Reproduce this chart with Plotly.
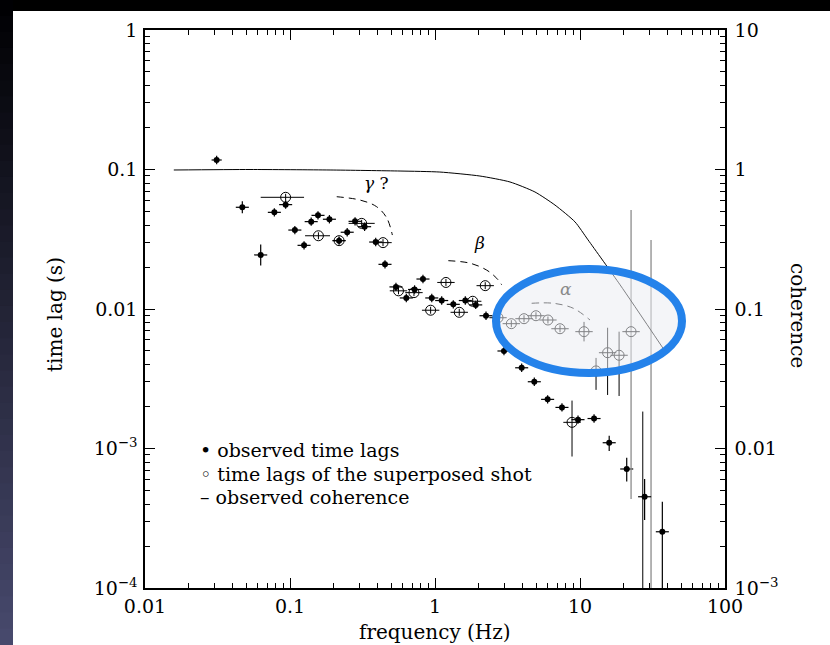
import math
import plotly.graph_objects as go

# ---------------- data ----------------
# observed time lags (filled dots)
freq_obs = [0.0312, 0.0469, 0.0628, 0.078, 0.0933, 0.108, 0.125, 0.140, 0.156, 0.187,
            0.218, 0.248, 0.281, 0.327, 0.390, 0.452, 0.538, 0.634, 0.723, 0.826,
            0.950, 1.112, 1.337, 1.618, 1.909, 2.248, 2.99, 3.96, 4.84, 5.98,
            7.51, 9.69, 12.5, 15.9, 21.0, 27.9, 36.97]
lag_obs = [0.117, 0.0536, 0.0244, 0.0493, 0.0560, 0.0368, 0.0286, 0.0423, 0.0469, 0.0440,
           0.0309, 0.0355, 0.0425, 0.0389, 0.0302, 0.0209, 0.0144, 0.0120, 0.0138, 0.0164,
           0.0120, 0.0115, 0.0108, 0.0115, 0.0107, 0.00895, 0.0050, 0.00379, 0.00301, 0.00225,
           0.00197, 0.00161, 0.00164, 0.00110, 0.000713, 0.000451, 0.000253]
# error bars in decades (upper / lower), frequency half-width in decades
obs_up_dex = [0.03, 0.043, 0.075] + [0.03] * 30 + [0.05, 0.08, 0.127, 0.215]
obs_dn_dex = [0.03, 0.043, 0.075] + [0.03] * 30 + [0.06, 0.09, 0.167, 0.60]
obs_f_dex = [0.035] + [0.045] * 36

# time lags of the superposed shot (open circles)
freq_shot = [0.0933, 0.157, 0.218, 0.312, 0.438, 0.560, 0.716, 1.19, 2.22, 0.933,
             1.47, 1.82, 2.72, 3.36, 4.11, 4.97, 6.01, 7.28, 10.66, 12.9,
             15.5, 18.6, 22.5, 8.81]
lag_shot = [0.0632, 0.0335, 0.0309, 0.0411, 0.0299, 0.0135, 0.0131, 0.0155, 0.0147, 0.0098,
            0.00947, 0.01136, 0.00866, 0.00785, 0.00852, 0.00895, 0.00834, 0.00722, 0.00688, 0.00360,
            0.00486, 0.00466, 0.00688, 0.00154]
shot_f_lo_dex = [0.172, 0.092, 0.045, 0.09] + [0.06] * 20
shot_f_hi_dex = [0.127, 0.080, 0.045, 0.09] + [0.06] * 20
shot_up_dex = [0.025] * 18 + [0.07, 0.093, 0.179, 0.169, 0.872, 0.156]
shot_dn_dex = [0.025] * 18 + [0.07, 0.136, 0.303, 0.292, 1.2, 0.245]
shot_gray_bar = [False] * 22 + [True, False]

# extra long error bars reaching the bottom axis
extra_freq = [30.9, 27.1]
extra_top = [0.0312, 0.00184]
extra_bottom = [5e-5, 5e-5]
extra_gray = [True, False]

# observed coherence (right axis)
freq_coh = [0.0158, 0.053, 0.189, 0.574, 1.08, 2.04, 3.29, 4.89, 6.72, 9.24, 11.36, 18.9, 37.3]
coherence = [0.992, 1.0, 0.992, 0.975, 0.959, 0.898, 0.814, 0.690, 0.556, 0.421, 0.313, 0.149, 0.0525]

# dashed arcs
arc_gamma_f = [0.210, 0.304, 0.396, 0.465, 0.508]
arc_gamma_lag = [0.0638, 0.0604, 0.0541, 0.0449, 0.0339]
arc_beta_f = [1.236, 1.742, 2.273, 2.665, 2.884]
arc_beta_lag = [0.0222, 0.0213, 0.0190, 0.0166, 0.0149]
arc_alpha_f = [4.64, 6.55, 8.99, 11.72]
arc_alpha_lag = [0.01099, 0.01099, 0.01012, 0.00834]

# arc labels
label_text = ["<i>γ</i> ?", "<i>β</i>", "<i>α</i>"]
label_f = [0.398, 2.04, 8.0]
label_lag = [0.080, 0.0297, 0.0139]
label_color = ["black", "black", "#8a8a8a"]

x_tickvals = [0.01, 0.1, 1, 10, 100]
x_ticktext = ["0.01", "0.1", "1", "10", "100"]
y_tickvals = [1e-4, 1e-3, 0.01, 0.1, 1]
y_ticktext = ["10<sup>−4</sup>", "10<sup>−3</sup>", "0.01", "0.1", "1"]
y2_tickvals = [1e-3, 0.01, 0.1, 1, 10]
y2_ticktext = ["10<sup>−3</sup>", "0.01", "0.1", "1", "10"]

legend_lines = ["• observed time lags", "◦ time lags of the superposed shot", "– observed coherence"]

# ---------------- figure ----------------
FONT = "DejaVu Serif"
W, H = 830, 645
L, R, T, B = 145, 105, 30, 57
PW, PH = W - L - R, H - T - B


def px_x(p):
    return (p - L) / PW


def px_y(p):
    return (H - B - p) / PH


fig = go.Figure()

# coherence line
fig.add_trace(go.Scatter(x=freq_coh, y=coherence, yaxis="y2", mode="lines", line_shape="spline",
                         line=dict(color="black", width=1, smoothing=0.6), showlegend=False, hoverinfo="skip"))

# dashed arcs
for af, al in [(arc_gamma_f, arc_gamma_lag), (arc_beta_f, arc_beta_lag), (arc_alpha_f, arc_alpha_lag)]:
    fig.add_trace(go.Scatter(x=af, y=al, mode="lines", line=dict(color="black", width=1, dash="7px,5px"),
                             line_shape="spline", showlegend=False, hoverinfo="skip"))

# extra long bars
for f, top, bot, g in zip(extra_freq, extra_top, extra_bottom, extra_gray):
    fig.add_trace(go.Scatter(x=[f, f], y=[top, bot], mode="lines",
                             line=dict(color="#8c8c8c" if g else "black", width=1.3 if g else 1),
                             showlegend=False, hoverinfo="skip"))

# observed lags
fig.add_trace(go.Scatter(
    x=freq_obs, y=lag_obs, mode="markers",
    marker=dict(symbol="circle", size=6, color="black"),
    error_x=dict(type="data", symmetric=False,
                 array=[f * (10 ** d - 1) for f, d in zip(freq_obs, obs_f_dex)],
                 arrayminus=[f * (1 - 10 ** -d) for f, d in zip(freq_obs, obs_f_dex)],
                 color="black", thickness=1.2, width=0),
    error_y=dict(type="data", symmetric=False,
                 array=[v * (10 ** d - 1) for v, d in zip(lag_obs, obs_up_dex)],
                 arrayminus=[v * (1 - 10 ** -d) for v, d in zip(lag_obs, obs_dn_dex)],
                 color="black", thickness=1.2, width=0),
    showlegend=False, hoverinfo="skip"))

# superposed shot lags
for gray in (False, True):
    idx = [i for i, g in enumerate(shot_gray_bar) if g == gray]
    fs = [freq_shot[i] for i in idx]
    ls = [lag_shot[i] for i in idx]
    col = "#8c8c8c" if gray else "black"
    fig.add_trace(go.Scatter(
        x=fs, y=ls, mode="markers",
        marker=dict(symbol="circle-open", size=10, color="black", line=dict(width=1)),
        error_x=dict(type="data", symmetric=False,
                     array=[freq_shot[i] * (10 ** shot_f_hi_dex[i] - 1) for i in idx],
                     arrayminus=[freq_shot[i] * (1 - 10 ** -shot_f_lo_dex[i]) for i in idx],
                     color="black", thickness=1, width=0),
        error_y=dict(type="data", symmetric=False,
                     array=[lag_shot[i] * (10 ** shot_up_dex[i] - 1) for i in idx],
                     arrayminus=[lag_shot[i] * (1 - 10 ** -shot_dn_dex[i]) for i in idx],
                     color=col, thickness=1.3 if gray else 1, width=0),
        showlegend=False, hoverinfo="skip"))

axis_common = dict(type="log", showline=True, linecolor="black", linewidth=1.5,
                   ticks="inside", ticklen=10, tickwidth=1.2, tickcolor="black",
                   showgrid=False, zeroline=False,
                   tickfont=dict(family=FONT, size=19, color="black"))


def minor_vals(e0, e1):
    return [m * 10 ** e for e in range(e0, e1) for m in range(2, 10)]


fig.update_layout(
    width=W, height=H,
    margin=dict(l=L, r=R, t=T, b=B),
    paper_bgcolor="white", plot_bgcolor="white",
    showlegend=False,
    xaxis=dict(**axis_common, range=[-2, 2], mirror="ticks",
               tickvals=x_tickvals, ticktext=x_ticktext,
               minor=dict(ticks="inside", ticklen=5, tickwidth=1, tickcolor="black",
                          tickvals=minor_vals(-2, 2))),
    yaxis=dict(**axis_common, range=[-4, 0], mirror=False,
               tickvals=y_tickvals, ticktext=y_ticktext, ticklabelstandoff=2,
               minor=dict(ticks="inside", ticklen=5, tickwidth=1, tickcolor="black",
                          tickvals=minor_vals(-4, 0))),
    yaxis2=dict(**axis_common, range=[-3, 1], overlaying="y", side="right",
                tickvals=y2_tickvals, ticktext=y2_ticktext, ticklabelstandoff=4,
                minor=dict(ticks="inside", ticklen=5, tickwidth=1, tickcolor="black",
                           tickvals=minor_vals(-3, 1))),
)

shapes = []
# white page area, black top band, dark gradient strip on the left
shapes.append(dict(type="rect", xref="paper", yref="paper", x0=px_x(0), x1=px_x(W), y0=px_y(H), y1=px_y(11),
                   fillcolor="white", line=dict(width=0), layer="below"))
shapes.append(dict(type="rect", xref="paper", yref="paper", x0=px_x(0), x1=px_x(W), y0=px_y(11), y1=px_y(0),
                   fillcolor="black", line=dict(width=0), layer="below"))
nb = 40
for k in range(nb):
    t = (k + 0.5) / nb
    c = (int(0 + 72 * t), int(0 + 74 * t), int(2 + 108 * t))
    shapes.append(dict(type="rect", xref="paper", yref="paper",
                       x0=px_x(0), x1=px_x(13),
                       y0=px_y(H * (k + 1) / nb + 0.5), y1=px_y(H * k / nb - 0.5),
                       fillcolor="rgb(%d,%d,%d)" % c, line=dict(width=0), layer="below"))
# highlighted region ellipse
shapes.append(dict(type="circle", xref="paper", yref="paper",
                   x0=px_x(496), x1=px_x(682), y0=px_y(373), y1=px_y(269),
                   fillcolor="rgba(235,237,242,0.55)", line=dict(color="rgb(36,130,234)", width=8),
                   layer="above"))
fig.update_layout(shapes=shapes)

ann = []
for t, f, l, c in zip(label_text, label_f, label_lag, label_color):
    ann.append(dict(x=math.log10(f), y=math.log10(l), xref="x", yref="y", text=t, showarrow=False,
                    xanchor="center", yanchor="middle",
                    font=dict(family=FONT, size=17, color=c)))
for i, t in enumerate(legend_lines):
    ann.append(dict(x=px_x(198), y=px_y(450 + 23.5 * i), xref="paper", yref="paper", text=t,
                    showarrow=False, xanchor="left", yanchor="middle",
                    font=dict(family=FONT, size=19, color="black")))
ann.append(dict(x=px_x(435), y=px_y(632), xref="paper", yref="paper", text="frequency (Hz)",
                showarrow=False, xanchor="center", yanchor="middle",
                font=dict(family=FONT, size=20, color="black")))
ann.append(dict(x=px_x(55), y=px_y(315), xref="paper", yref="paper", text="time lag (s)",
                showarrow=False, textangle=-90, xanchor="center", yanchor="middle",
                font=dict(family=FONT, size=20, color="black")))
ann.append(dict(x=px_x(798), y=px_y(315), xref="paper", yref="paper", text="coherence",
                showarrow=False, textangle=90, xanchor="center", yanchor="middle",
                font=dict(family=FONT, size=20, color="black")))
fig.update_layout(annotations=ann)

fig.write_html("out.html")
